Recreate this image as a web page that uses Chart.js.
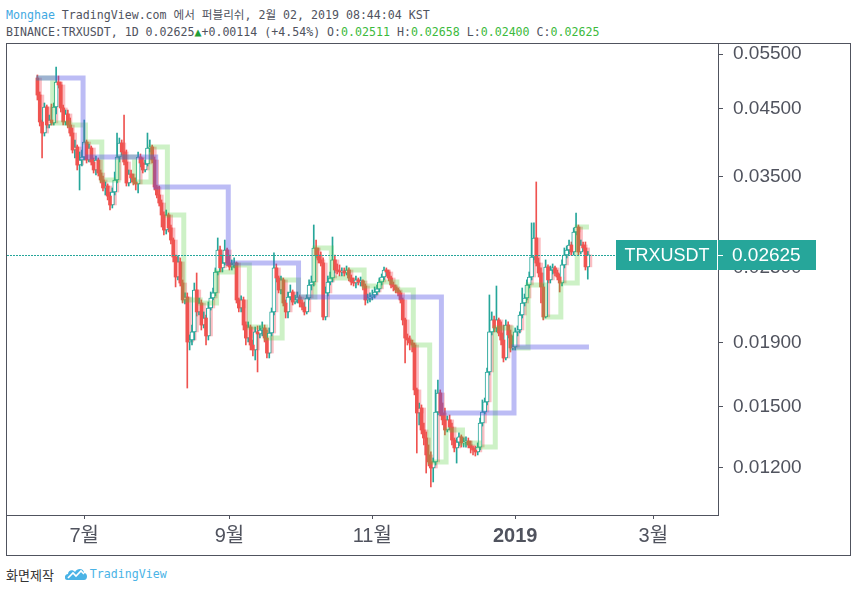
<!DOCTYPE html>
<html lang="ko">
<head>
<meta charset="utf-8">
<title>TRXUSDT 1D</title>
<script src="https://cdn.jsdelivr.net/npm/chart.js@4.4.1/dist/chart.umd.min.js"></script>
<style>
  html, body { margin: 0; padding: 0; background: #fff; }
  body { position: relative; width: 856px; height: 591px; overflow: hidden; }
  .line { position: absolute; left: 6px; font: 11.6px 'DejaVu Sans Mono', 'Noto Sans CJK KR', monospace; color: #50535e; white-space: pre; line-height: 16px; }
  #title { top: 7px; }
  #ohlc { top: 24px; }
  .user { color: #3fa9e2; }
  .val { color: #3cba3c; }
  .tri { color: #1f9e36; }
  #frame { position: absolute; left: 6px; top: 43px; width: 843px; height: 511px; border: 1px solid #50535e; }
  #chart { display: block; }
  #foot { position: absolute; left: 6px; top: 565px; height: 18px; display: flex; align-items: center; }
  #foot .made { font: 13px 'Noto Sans CJK KR', sans-serif; color: #333; }
  #foot svg { margin-left: 11px; }
  #foot .tv { font: 11.6px 'DejaVu Sans Mono', monospace; color: #4ab3e6; margin-left: 3px; }
</style>
</head>
<body>
<div class="line" id="title"><span class="user">Monghae</span> TradingView.com 에서 퍼블리쉬, 2월 02, 2019 08:44:04 KST</div>
<div class="line" id="ohlc">BINANCE:TRXUSDT, 1D 0.02625<span class="tri">▲</span>+0.00114 (+4.54%) O:<span class="val">0.02511</span> H:<span class="val">0.02658</span> L:<span class="val">0.02400</span> C:<span class="val">0.02625</span></div>
<div id="frame"><canvas id="chart" width="843" height="511"></canvas></div>
<div id="foot"><span class="made">화면제작</span><svg width="22" height="14" viewBox="0 0 22 14"><path d="M2 13 C-1 13 -1 7 3 7 C3 3 8 2 10 5 C12 1 19 1 19 6 C23 6 23 13 19 13 Z" fill="#4ab3e6"/><path d="M3 11 L8 6 L11 9 L16 4 L19 7" stroke="#fff" stroke-width="1.6" fill="none"/></svg><span class="tv">TradingView</span></div>
<script>
// daily candles, 2018-06-11 .. 2019-02-01 (index 0 = Jun 11)
const firstOpen = 0.05035;
const closes = [
  0.04729, 0.04282, 0.04111, 0.04525, 0.04234, 0.04313, 0.04266,
  0.04525, 0.04961, 0.04907, 0.04508, 0.04282, 0.04410, 0.04234,
  0.04111, 0.03862, 0.03905, 0.03654, 0.03722, 0.03764, 0.03977,
  0.03722, 0.03890, 0.03695, 0.03588, 0.03722, 0.03548, 0.03458,
  0.03358, 0.03382, 0.03260, 0.03154, 0.03308, 0.03458, 0.03764,
  0.03963, 0.03834, 0.03695, 0.03420, 0.03535, 0.03484, 0.03433,
  0.03408, 0.03764, 0.03681, 0.03588, 0.03668, 0.03890, 0.03905,
  0.03722, 0.03370, 0.03272, 0.03177, 0.03040, 0.02876, 0.03040,
  0.02898, 0.02772, 0.02604, 0.02419, 0.02557, 0.02366, 0.02223,
  0.02247, 0.01904, 0.01918, 0.01976, 0.02306, 0.02127, 0.02198,
  0.02027, 0.02080, 0.01947, 0.02158, 0.02239, 0.02281, 0.02464,
  0.02672, 0.02501, 0.02547, 0.02672, 0.02547, 0.02510, 0.02529,
  0.02547, 0.02223, 0.02158, 0.02223, 0.02027, 0.01932, 0.02012,
  0.01883, 0.01849, 0.01976, 0.01961, 0.01990, 0.02005, 0.01932,
  0.01828, 0.01968, 0.02127, 0.02501, 0.02410, 0.02306, 0.02393,
  0.02198, 0.02127, 0.02247, 0.02289, 0.02206, 0.02223, 0.02247,
  0.02198, 0.02166, 0.02127, 0.02239, 0.02349, 0.02375, 0.02692,
  0.02623, 0.02576, 0.02547, 0.02088, 0.02281, 0.02375, 0.02410,
  0.02576, 0.02482, 0.02473, 0.02464, 0.02473, 0.02455, 0.02482,
  0.02410, 0.02375, 0.02366, 0.02393, 0.02375, 0.02384, 0.02340,
  0.02223, 0.02239, 0.02247, 0.02264, 0.02289, 0.02315, 0.02375,
  0.02419, 0.02482, 0.02464, 0.02410, 0.02349, 0.02332, 0.02306,
  0.02281, 0.02223, 0.02065, 0.01932, 0.01918, 0.01897, 0.01883,
  0.01596, 0.01466, 0.01493, 0.01377, 0.01337, 0.01256, 0.01224,
  0.01197, 0.01224, 0.01471, 0.01578, 0.01466, 0.01429, 0.01377,
  0.01429, 0.01392, 0.01327, 0.01289, 0.01317, 0.01342, 0.01313,
  0.01317, 0.01322, 0.01303, 0.01289, 0.01279, 0.01270, 0.01293,
  0.01413, 0.01471, 0.01527, 0.01705, 0.01976, 0.02065, 0.02005,
  0.02065, 0.01968, 0.01918, 0.01795, 0.02027, 0.01954, 0.01863,
  0.01869, 0.01976, 0.01990, 0.02103, 0.02198, 0.02239, 0.02349,
  0.02419, 0.02604, 0.02793, 0.02547, 0.02455, 0.02332, 0.02088,
  0.02510, 0.02393, 0.02482, 0.02501, 0.02455, 0.02419, 0.02366,
  0.02529, 0.02623, 0.02672, 0.02722, 0.02653, 0.02855, 0.02908,
  0.02653, 0.02722, 0.02692, 0.02511, 0.02625
];
const highs = [
  0.05091, 0.04782, 0.04313, 0.04592, 0.04558, 0.04393, 0.04575,
  0.04592, 0.05243, 0.05072, 0.04961, 0.04558, 0.04475, 0.04475,
  0.04345, 0.04188, 0.04007, 0.03934, 0.03834, 0.03862, 0.04313,
  0.04007, 0.03948, 0.03919, 0.03750, 0.03777, 0.03750, 0.03588,
  0.03509, 0.03433, 0.03408, 0.03308, 0.03358, 0.03561, 0.04111,
  0.04036, 0.04007, 0.04393, 0.03862, 0.03588, 0.03588, 0.03535,
  0.03484, 0.03834, 0.03806, 0.03750, 0.03722, 0.04111, 0.04007,
  0.03934, 0.03764, 0.03395, 0.03382, 0.03213, 0.03074, 0.03096,
  0.03062, 0.02930, 0.02793, 0.02623, 0.02614, 0.02595, 0.02393,
  0.02281, 0.02281, 0.01954, 0.02027, 0.02366, 0.02455, 0.02239,
  0.02223, 0.02127, 0.02103, 0.02206, 0.02289, 0.02323, 0.02501,
  0.02793, 0.02712, 0.02623, 0.02772, 0.02692, 0.02623, 0.02576,
  0.02595, 0.02557, 0.02239, 0.02256, 0.02247, 0.02050, 0.02050,
  0.02027, 0.01918, 0.02012, 0.02020, 0.02020, 0.02050, 0.02027,
  0.01990, 0.02005, 0.02158, 0.02643, 0.02538, 0.02428, 0.02428,
  0.02410, 0.02223, 0.02289, 0.02349, 0.02306, 0.02264, 0.02289,
  0.02264, 0.02223, 0.02206, 0.02264, 0.02393, 0.02428, 0.02930,
  0.02772, 0.02692, 0.02653, 0.02595, 0.02332, 0.02428, 0.02464,
  0.02803, 0.02623, 0.02538, 0.02529, 0.02501, 0.02501, 0.02519,
  0.02501, 0.02437, 0.02410, 0.02428, 0.02410, 0.02419, 0.02393,
  0.02358, 0.02272, 0.02281, 0.02306, 0.02332, 0.02349, 0.02410,
  0.02446, 0.02510, 0.02501, 0.02482, 0.02428, 0.02375, 0.02349,
  0.02323, 0.02298, 0.02239, 0.02080, 0.01961, 0.01947, 0.01918,
  0.01897, 0.01607, 0.01521, 0.01510, 0.01413, 0.01367, 0.01303,
  0.01270, 0.01242, 0.01596, 0.01655, 0.01596, 0.01521, 0.01493,
  0.01450, 0.01455, 0.01413, 0.01337, 0.01337, 0.01362, 0.01352,
  0.01337, 0.01342, 0.01337, 0.01322, 0.01298, 0.01298, 0.01313,
  0.01439, 0.01538, 0.01549, 0.01730, 0.02264, 0.02127, 0.02095,
  0.02340, 0.02080, 0.02050, 0.02027, 0.02065, 0.02050, 0.01990,
  0.01947, 0.02005, 0.02020, 0.02127, 0.02323, 0.02272, 0.02393,
  0.02464, 0.02952, 0.02952, 0.03433, 0.02595, 0.02501, 0.02358,
  0.02576, 0.02529, 0.02519, 0.02538, 0.02519, 0.02482, 0.02446,
  0.02576, 0.02692, 0.02712, 0.02772, 0.02752, 0.02898, 0.03062,
  0.02930, 0.02772, 0.02752, 0.02752, 0.02658
];
const lows = [
  0.04643, 0.04219, 0.03750, 0.04066, 0.04188, 0.04188, 0.04234,
  0.04234, 0.04410, 0.04853, 0.04442, 0.04234, 0.04234, 0.04188,
  0.04066, 0.03819, 0.03750, 0.03588, 0.03333, 0.03641, 0.03722,
  0.03681, 0.03695, 0.03654, 0.03548, 0.03522, 0.03509, 0.03420,
  0.03321, 0.03272, 0.03213, 0.03096, 0.03119, 0.03272, 0.03420,
  0.03695, 0.03791, 0.03654, 0.03382, 0.03382, 0.03433, 0.03395,
  0.03333, 0.03296, 0.03628, 0.03548, 0.03561, 0.03641, 0.03834,
  0.03681, 0.03333, 0.03236, 0.03142, 0.02908, 0.02824, 0.02834,
  0.02855, 0.02732, 0.02557, 0.02332, 0.02393, 0.02340, 0.02198,
  0.02190, 0.01607, 0.01849, 0.01883, 0.01918, 0.02095, 0.02103,
  0.01990, 0.02005, 0.01883, 0.01918, 0.02142, 0.02223, 0.02256,
  0.02437, 0.02464, 0.02464, 0.02529, 0.02519, 0.02482, 0.02482,
  0.02501, 0.02198, 0.02127, 0.02127, 0.01990, 0.01883, 0.01904,
  0.01849, 0.01808, 0.01782, 0.01705, 0.01932, 0.01947, 0.01904,
  0.01795, 0.01795, 0.01947, 0.02103, 0.02375, 0.02281, 0.02272,
  0.02174, 0.02080, 0.02080, 0.02223, 0.02182, 0.02190, 0.02198,
  0.02166, 0.02142, 0.02103, 0.02111, 0.02223, 0.02306, 0.02340,
  0.02595, 0.02547, 0.02519, 0.02065, 0.02065, 0.02256, 0.02349,
  0.02375, 0.02455, 0.02446, 0.02428, 0.02428, 0.02428, 0.02437,
  0.02384, 0.02349, 0.02340, 0.02323, 0.02349, 0.02340, 0.02306,
  0.02182, 0.02198, 0.02206, 0.02223, 0.02239, 0.02264, 0.02289,
  0.02349, 0.02393, 0.02428, 0.02384, 0.02323, 0.02298, 0.02281,
  0.02256, 0.02198, 0.02027, 0.01762, 0.01883, 0.01849, 0.01835,
  0.01567, 0.01265, 0.01403, 0.01357, 0.01303, 0.01175, 0.01206,
  0.01116, 0.01137, 0.01210, 0.01455, 0.01450, 0.01403, 0.01352,
  0.01367, 0.01377, 0.01303, 0.01270, 0.01219, 0.01298, 0.01293,
  0.01293, 0.01293, 0.01289, 0.01265, 0.01256, 0.01251, 0.01256,
  0.01279, 0.01397, 0.01461, 0.01510, 0.01686, 0.01954, 0.01976,
  0.01976, 0.01947, 0.01883, 0.01769, 0.01782, 0.01932, 0.01835,
  0.01849, 0.01849, 0.01947, 0.01968, 0.02080, 0.02174, 0.02223,
  0.02323, 0.02393, 0.02576, 0.02519, 0.02419, 0.02198, 0.02065,
  0.02080, 0.02366, 0.02366, 0.02446, 0.02428, 0.02393, 0.02289,
  0.02340, 0.02501, 0.02595, 0.02633, 0.02623, 0.02623, 0.02824,
  0.02623, 0.02633, 0.02662, 0.02482, 0.02400
];
// first candle of each calendar month / each Monday week
const monthStarts = [0, 20, 51, 82, 112, 143, 173, 204];
const weekStarts = [0, 7, 14, 21, 28, 35, 42, 49, 56, 63, 70, 77, 84, 91, 98, 105, 112,
  119, 126, 133, 140, 147, 154, 161, 168, 175, 182, 189, 196, 203, 210, 217, 224, 231];
const xTickDays = [20, 82, 143, 204, 263];
const xTickLabels = ['7월', '9월', '11월', '2019', '3월'];
const yTicks = [0.055, 0.045, 0.035, 0.025, 0.019, 0.015, 0.012];
const symbol = 'TRXUSDT';

const AXIS = '#50535e';
const TEXT = '#50535e';
const UP = '#26a69a';
const DOWN = '#ef5350';
const SANS = "'Liberation Sans', Arial, 'Noto Sans CJK KR', sans-serif";

const opens = closes.map((c, i) => i === 0 ? firstOpen : closes[i - 1]);
const lastIndex = closes.length - 1;
const lastClose = closes[lastIndex];

const upIdx = [], downIdx = [];
closes.forEach((c, i) => (c >= opens[i] ? upIdx : downIdx).push(i));

const wicks = idx => idx.map(i => ({
  x: i,
  y: [Math.min(lows[i], opens[i], closes[i]), Math.max(highs[i], opens[i], closes[i])]
}));
const bodies = idx => idx.map(i => ({ x: i, y: [opens[i], closes[i]] }));
const shade = closes.map((c, i) => ({ x: i + 0.7, y: [opens[i], c] }));

function steps(starts) {
  const pts = starts.map(i => ({ x: i - 0.5, y: opens[i] }));
  pts.push({ x: lastIndex + 0.5, y: opens[starts[starts.length - 1]] });
  return pts;
}

const barBase = { type: 'bar', stack: 'c', minBarLength: 1, borderSkipped: false };

const lastPrice = {
  id: 'lastPrice',
  afterDatasetsDraw(chart) {
    const { ctx, chartArea, scales: { y } } = chart;
    const py = Math.round(y.getPixelForValue(lastClose));
    ctx.save();
    ctx.fillStyle = UP;
    // dotted last-price line, one pixel high
    for (let px = Math.round(chartArea.left); px < chartArea.right; px += 3) {
      ctx.fillRect(px, py, 2, 1);
    }
    ctx.restore();
  },
  afterDraw(chart) {
    const { ctx, chartArea, scales: { y } } = chart;
    const py = Math.round(y.getPixelForValue(lastClose));
    const r = chartArea.right;
    ctx.save();
    ctx.fillStyle = UP;
    ctx.fillRect(r - 102, py - 15, 101, 30);
    ctx.fillRect(r, py - 15, 98, 30);
    ctx.fillStyle = '#fff';
    ctx.fillRect(r - 1, py - 15, 1, 30);
    ctx.fillRect(r, py, 5, 1);
    ctx.textBaseline = 'middle';
    ctx.font = '18px ' + SANS;
    ctx.textAlign = 'center';
    ctx.fillText(symbol, r - 51, py + 1);
    ctx.font = '19px ' + SANS;
    ctx.textAlign = 'left';
    ctx.fillText(lastClose.toFixed(5), r + 14, py + 1);
    ctx.restore();
  }
};

new Chart(document.getElementById('chart'), {
  type: 'bar',
  data: {
    datasets: [
      { ...barBase, data: shade, order: 6, barThickness: 5, backgroundColor: 'rgba(242,54,69,0.32)' },
      { ...barBase, data: wicks(downIdx), order: 5, barThickness: 1, backgroundColor: DOWN },
      { ...barBase, data: wicks(upIdx), order: 5, barThickness: 1, backgroundColor: UP },
      { ...barBase, data: bodies(downIdx), order: 4, barThickness: 3, backgroundColor: DOWN },
      { ...barBase, data: bodies(upIdx), order: 4, barThickness: 4, backgroundColor: '#ffffff',
        borderColor: UP, borderWidth: 1 },
      { type: 'line', data: steps(weekStarts), order: 2, stepped: true, borderWidth: 5,
        borderColor: 'rgba(76,205,50,0.28)', pointRadius: 0, fill: false, borderCapStyle: 'butt' },
      { type: 'line', data: steps(monthStarts), order: 1, stepped: true, borderWidth: 5,
        borderColor: 'rgba(80,80,230,0.38)', pointRadius: 0, fill: false, borderCapStyle: 'butt' }
    ]
  },
  options: {
    responsive: false,
    animation: false,
    layout: { padding: 0 },
    plugins: { legend: { display: false }, tooltip: { enabled: false } },
    scales: {
      x: {
        type: 'linear',
        min: -12.98,
        max: 290.6,
        bounds: 'data',
        offset: false,
        grid: { drawOnChartArea: false, tickLength: 4, color: AXIS, offset: false },
        border: { color: AXIS },
        afterBuildTicks: s => { s.ticks = xTickDays.map(v => ({ value: v })); },
        afterFit: s => { s.height = 40; s.paddingLeft = 0; s.paddingRight = 0; },
        ticks: {
          autoSkip: false,
          maxRotation: 0,
          padding: 5,
          color: TEXT,
          font: c => ({ family: SANS, size: 20, weight: c.tick && c.tick.label === '2019' ? 'bold' : 'normal' }),
          callback: v => xTickLabels[xTickDays.indexOf(v)]
        }
      },
      y: {
        type: 'logarithmic',
        position: 'right',
        min: 0.010067,
        max: 0.057064,
        bounds: 'data',
        stacked: false,
        grid: { drawOnChartArea: false, tickLength: 5, color: AXIS },
        border: { color: AXIS },
        afterBuildTicks: s => { s.ticks = yTicks.map(v => ({ value: v })); },
        afterFit: s => { s.width = 132; s.paddingTop = 0; s.paddingBottom = 0; },
        ticks: {
          padding: 10,
          color: TEXT,
          font: { family: SANS, size: 19 },
          callback: v => Number(v).toFixed(5)
        }
      }
    }
  },
  plugins: [lastPrice]
});
</script>
</body>
</html>
